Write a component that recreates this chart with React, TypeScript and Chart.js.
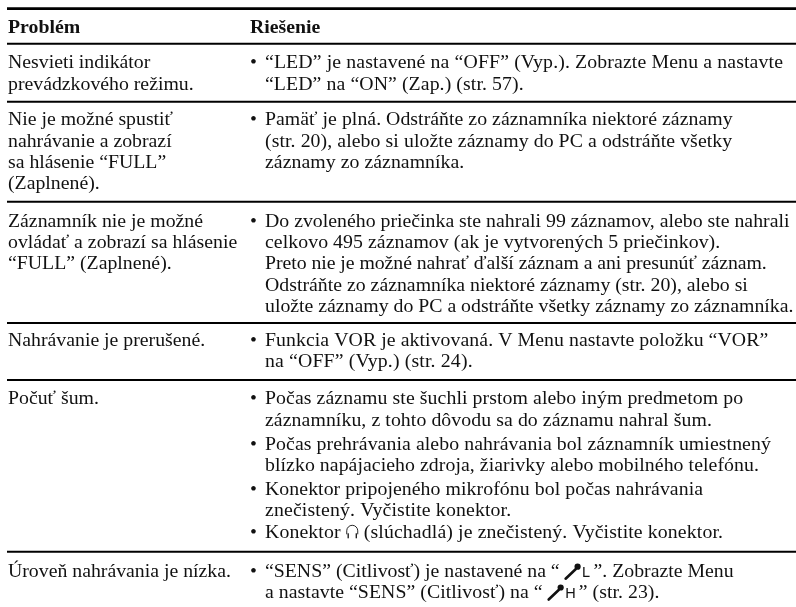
import React, { useEffect, useRef } from "react";
import { Chart, registerables } from "chart.js";

Chart.register(...registerables);

const WIDTH = 796;
const HEIGHT = 607;
const FONT_FAMILY = '"Liberation Serif", "Times New Roman", serif';
const FONT_SIZE = 19.8;
const INK = "#111111";

const headerLabels = ["Problém", "Riešenie"];
const headerColumns = [8, 250];
const headerBaselines = [32.5, 32.5];

const ruleLevels = [8.6, 43.8, 101.8, 201.8, 323, 380, 551.7];
const ruleWidths = [2.6, 2, 2, 2, 2, 2, 2];
const ruleSpan = [7, 796];

const problemLines = [
  "Nesvieti indikátor",
  "prevádzkového režimu.",
  "Nie je možné spustiť",
  "nahrávanie a zobrazí",
  "sa hlásenie “FULL”",
  "(Zaplnené).",
  "Záznamník nie je možné",
  "ovládať a zobrazí sa hlásenie",
  "“FULL” (Zaplnené).",
  "Nahrávanie je prerušené.",
  "Počuť šum.",
  "Úroveň nahrávania je nízka.",
];
const problemBaselines = [68.3, 89.5, 125, 146.5, 167.8, 189.2, 226.5, 248, 269.3, 346, 404, 576.7];
const problemColumn = 8;

const solutionLines = [
  "“LED” je nastavené na “OFF” (Vyp.). Zobrazte Menu a nastavte",
  "“LED” na “ON” (Zap.) (str. 57).",
  "Pamäť je plná. Odstráňte zo záznamníka niektoré záznamy",
  "(str. 20), alebo si uložte záznamy do PC a odstráňte všetky",
  "záznamy zo záznamníka.",
  "Do zvoleného priečinka ste nahrali 99 záznamov, alebo ste nahrali",
  "celkovo 495 záznamov (ak je vytvorených 5 priečinkov).",
  "Preto nie je možné nahrať ďalší záznam a ani presunúť záznam.",
  "Odstráňte zo záznamníka niektoré záznamy (str. 20), alebo si",
  "uložte záznamy do PC a odstráňte všetky záznamy zo záznamníka.",
  "Funkcia VOR je aktivovaná. V Menu nastavte položku “VOR”",
  "na “OFF” (Vyp.) (str. 24).",
  "Počas záznamu ste šuchli prstom alebo iným predmetom po",
  "záznamníku, z tohto dôvodu sa do záznamu nahral šum.",
  "Počas prehrávania alebo nahrávania bol záznamník umiestnený",
  "blízko napájacieho zdroja, žiarivky alebo mobilného telefónu.",
  "Konektor pripojeného mikrofónu bol počas nahrávania",
  "znečistený. Vyčistite konektor.",
  "Konektor {phones} (slúchadlá) je znečistený. Vyčistite konektor.",
  "“SENS” (Citlivosť) je nastavené na “ {micL} ”. Zobrazte Menu",
  "a nastavte “SENS” (Citlivosť) na “ {micH} ” (str. 23).",
];
const solutionBaselines = [
  68.3, 89.5, 125, 146.5, 167.8, 226.5, 248, 269.3, 290.7, 312, 346, 367.3, 404, 425.5, 450, 471, 495, 516.3,
  538.3, 576.7, 597.5,
];
const solutionTracking = [
  0.13, 0.09, 0.04, 0.08, 0.05, 0.01, 0.07, -0.05, 0.01, 0, 0.07, 0.15, 0.085, 0.08, 0.085, 0.065, 0.07, 0.15,
  0.12, 0, 0.05,
];
const solutionColumn = 265;

const bulletBaselines = [68.3, 125, 226.5, 346, 404, 450, 495, 538.3, 576.7];
const bulletColumn = 250;

function drawPhones(ctx: CanvasRenderingContext2D, x: number, y: number) {
  ctx.save();
  ctx.strokeStyle = INK;
  ctx.fillStyle = INK;
  ctx.lineWidth = 0.9;
  ctx.beginPath();
  ctx.arc(x + 6.5, y - 7.5, 5.5, Math.PI, 0);
  ctx.lineTo(x + 12, y - 4);
  ctx.moveTo(x + 1, y - 7.5);
  ctx.lineTo(x + 1, y - 4);
  ctx.stroke();
  ctx.fillRect(x + 1.8, y - 5, 1.3, 5);
  ctx.fillRect(x + 9.9, y - 5, 1.3, 5);
  ctx.restore();
  return 13;
}

function drawMic(ctx: CanvasRenderingContext2D, x: number, y: number, letter: string, advance: number) {
  ctx.save();
  ctx.strokeStyle = INK;
  ctx.fillStyle = INK;
  ctx.lineCap = "round";
  ctx.lineWidth = 2.6;
  ctx.beginPath();
  ctx.moveTo(x + 1, y + 2);
  ctx.lineTo(x + 11, y - 7.5);
  ctx.stroke();
  ctx.beginPath();
  ctx.arc(x + 13, y - 10, 3.1, 0, Math.PI * 2);
  ctx.fill();
  ctx.letterSpacing = "0px";
  ctx.font = '14.5px "Liberation Sans", sans-serif';
  ctx.fillText(letter, x + 17.5, y + 0.5);
  ctx.restore();
  return advance;
}

function drawRich(ctx: CanvasRenderingContext2D, text: string, x: number, y: number) {
  let cursor = x;
  for (const part of text.split(/(\{[a-zA-Z]+\})/)) {
    if (part === "{phones}") cursor += drawPhones(ctx, cursor, y);
    else if (part === "{micL}") cursor += drawMic(ctx, cursor, y, "L", 24);
    else if (part === "{micH}") cursor += drawMic(ctx, cursor, y, "H", 26);
    else if (part) {
      ctx.fillText(part, cursor, y);
      cursor += ctx.measureText(part).width;
    }
  }
}

const tableText = {
  id: "tableText",
  afterDatasetsDraw(chart: any) {
    const { ctx } = chart;
    ctx.save();
    ctx.fillStyle = INK;
    ctx.textBaseline = "alphabetic";
    ctx.textAlign = "left";
    chart.data.datasets.forEach((ds: any, i: number) => {
      if (!ds.textFont) return;
      ctx.font = ds.textFont;
      const meta = chart.getDatasetMeta(i);
      meta.data.forEach((pt: any, j: number) => {
        ctx.letterSpacing = `${ds.tracking ? ds.tracking[j] : 0}px`;
        drawRich(ctx, ds.data[j].text, pt.x, pt.y);
      });
    });
    ctx.restore();
  },
};

const regular = `${FONT_SIZE}px ${FONT_FAMILY}`;
const bold = `bold ${FONT_SIZE}px ${FONT_FAMILY}`;

export default function App() {
  const ref = useRef<HTMLCanvasElement>(null);
  useEffect(() => {
    document.body.style.margin = "0";
    const ruleSets = ruleLevels.map((level, i) => ({
      type: "line",
      label: `rule ${i + 1}`,
      data: ruleSpan.map((x) => ({ x, y: level })),
      borderColor: "#000000",
      borderWidth: ruleWidths[i],
      pointRadius: 0,
      showLine: true,
    }));
    const textSet = (label: string, font: string, points: any[], tracking?: number[]) => ({
      type: "scatter",
      label,
      data: points,
      pointRadius: 0,
      showLine: false,
      textFont: font,
      tracking,
    });
    const chart = new Chart(ref.current as HTMLCanvasElement, {
      type: "scatter",
      data: {
        datasets: [
          ...ruleSets,
          textSet(
            "header",
            bold,
            headerLabels.map((text, i) => ({ x: headerColumns[i], y: headerBaselines[i], text })),
          ),
          textSet(
            "problem",
            regular,
            problemLines.map((text, i) => ({ x: problemColumn, y: problemBaselines[i], text })),
          ),
          textSet(
            "solution",
            regular,
            solutionLines.map((text, i) => ({ x: solutionColumn, y: solutionBaselines[i], text })),
            solutionTracking,
          ),
          textSet(
            "bullets",
            regular,
            bulletBaselines.map((y) => ({ x: bulletColumn, y, text: "•" })),
          ),
        ] as any,
      },
      options: {
        animation: false,
        responsive: false,
        layout: { padding: 0 },
        plugins: { legend: { display: false }, tooltip: { enabled: false }, title: { display: false } },
        scales: {
          x: { type: "linear", min: 0, max: WIDTH, display: false },
          y: { type: "linear", min: 0, max: HEIGHT, reverse: true, display: false },
        },
      } as any,
      plugins: [tableText],
    });
    return () => chart.destroy();
  }, []);
  return (
    <div style={{ width: WIDTH, height: HEIGHT, background: "#ffffff" }}>
      <canvas ref={ref} width={WIDTH} height={HEIGHT} style={{ display: "block" }} />
    </div>
  );
}
